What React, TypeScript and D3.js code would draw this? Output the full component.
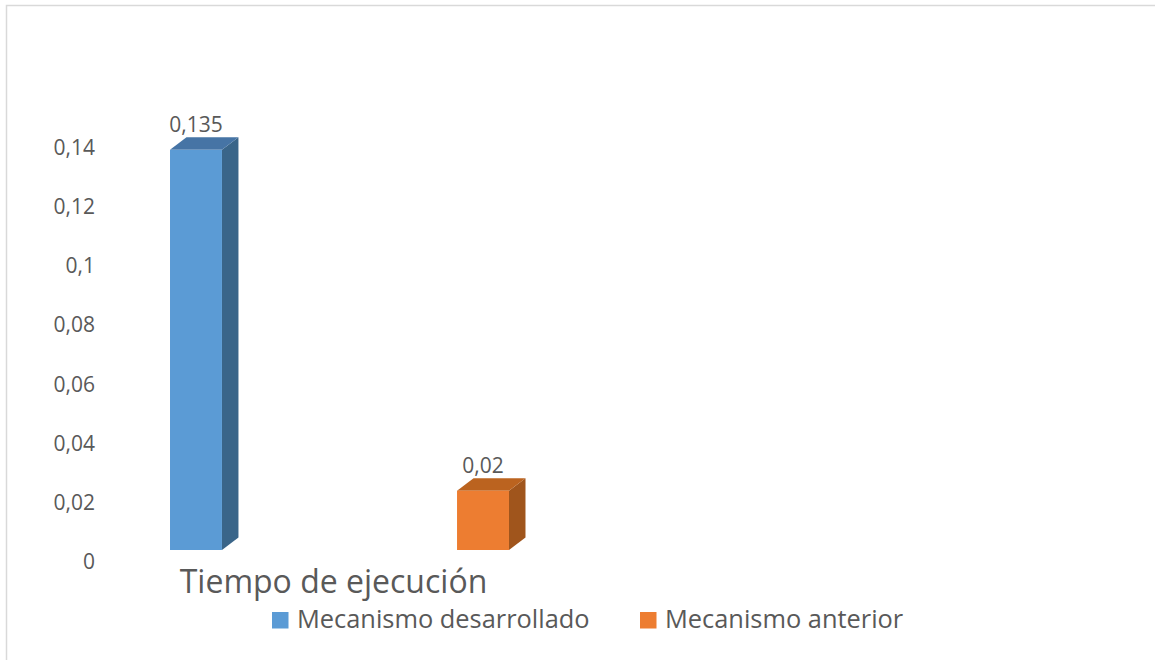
import React from "react";
import * as d3 from "d3";

const categories = ["Tiempo de ejecución"];
const seriesNames = ["Mecanismo desarrollado", "Mecanismo anterior"];
const seriesValues = [0.135, 0.02];
const seriesFront = ["#5B9BD5", "#ED7D31"];
const seriesTop = ["#4674A5", "#BB631F"];
const seriesSide = ["#3A6589", "#A0551C"];
const yTicks = [0, 0.02, 0.04, 0.06, 0.08, 0.1, 0.12, 0.14];

const W = 1155;
const H = 660;
const TEXT = "#595959";
const FONT = "'Open Sans', 'DejaVu Sans', sans-serif";

const fmt = (v: number) => String(+v.toFixed(4)).replace(".", ",");

export default function App() {
  // floor of the bars (front faces) and the back wall carrying the axis labels
  const yFront = d3.scaleLinear().domain([0, 0.14]).range([550, 135]);
  const yWall = d3.scaleLinear().domain([0, 0.14]).range([561, 147]);

  const xCat = d3.scaleBand().domain(categories).range([26.5, 652.5]);
  const xSer = d3
    .scaleBand()
    .domain(seriesNames)
    .range([xCat(categories[0])!, xCat(categories[0])! + xCat.bandwidth()])
    .paddingInner(0.819)
    .paddingOuter(0.5);

  const depthX = 16.5;
  const depthY = -12.5;

  const bars = seriesNames.map((name, i) => {
    const v = seriesValues[i];
    const x0 = xSer(name)!;
    const x1 = x0 + xSer.bandwidth();
    const yb = yFront(0);
    const yt = yFront(v);
    const top = `M${x0},${yt} L${x0 + depthX},${yt + depthY} L${x1 + depthX},${yt + depthY} L${x1},${yt} Z`;
    const side = `M${x1},${yt} L${x1 + depthX},${yt + depthY} L${x1 + depthX},${yb + depthY} L${x1},${yb} Z`;
    return { name, v, x0, x1, yb, yt, top, side, i };
  });

  const catCenter = xCat(categories[0])! + xCat.bandwidth() / 2;

  const legendItems = [
    { name: seriesNames[0], sq: 272, tx: 297 },
    { name: seriesNames[1], sq: 640, tx: 665 },
  ];

  return (
    <svg
      width={W}
      height={H}
      style={{ position: "absolute", left: 0, top: 0, background: "#fff" }}
      fontFamily={FONT}
    >
      <rect x={0} y={0} width={W} height={H} fill="#fff" />
      <rect
        x={6.5}
        y={5.5}
        width={W + 20}
        height={H + 20}
        fill="none"
        stroke="#d9d9d9"
        strokeWidth={1.5}
      />

      {/* value axis labels */}
      {yTicks.map((t) => (
        <text
          key={t}
          x={95}
          y={yWall(t)}
          textAnchor="end"
          dominantBaseline="central"
          fontSize={21}
          fill={TEXT}
        >
          {fmt(t)}
        </text>
      ))}

      {/* 3D columns */}
      {bars.map((b) => (
        <g key={b.name}>
          <path d={b.side} fill={seriesSide[b.i]} />
          <path d={b.top} fill={seriesTop[b.i]} />
          <rect
            x={b.x0}
            y={b.yt}
            width={b.x1 - b.x0}
            height={b.yb - b.yt}
            fill={seriesFront[b.i]}
          />
          <text
            x={(b.x0 + b.x1) / 2}
            y={b.yt + depthY - 5}
            textAnchor="middle"
            fontSize={21}
            fill={TEXT}
          >
            {fmt(b.v)}
          </text>
        </g>
      ))}

      {/* category label */}
      <text
        x={catCenter - 6}
        y={593}
        textAnchor="middle"
        fontSize={32}
        fill={TEXT}
      >
        {categories[0]}
      </text>

      {/* legend */}
      {legendItems.map((l, i) => (
        <g key={l.name}>
          <rect x={l.sq} y={612} width={16.5} height={16.5} fill={seriesFront[i]} />
          <text x={l.tx} y={628} fontSize={25.4} fill={TEXT}>
            {l.name}
          </text>
        </g>
      ))}
    </svg>
  );
}
